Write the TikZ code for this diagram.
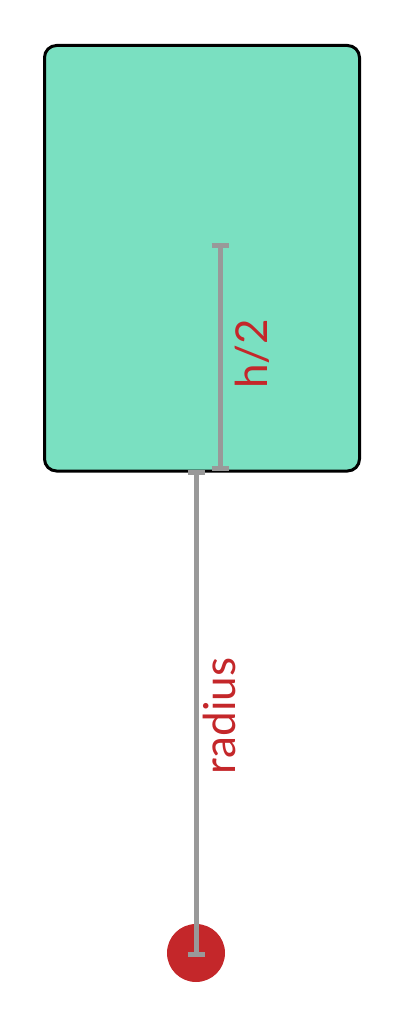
\documentclass[tikz,border=0pt]{standalone}
\usepackage{fontspec}
\setmainfont{Lato}
\definecolor{boxfill}{HTML}{7AE0C1}
\definecolor{barcol}{HTML}{999999}
\definecolor{redc}{HTML}{C4272A}
\begin{document}
\begin{tikzpicture}[x=1pt,y=-1pt,
  bar/.style={draw=barcol,line width=5pt,line cap=butt},
  lbl/.style={text=redc,font=\fontsize{44}{44}\selectfont,rotate=90,anchor=base,inner sep=0pt}]
\useasboundingbox (0,0) rectangle (404,1014);
\node[draw=black,line width=3pt,fill=boxfill,rounded corners=12pt,minimum width=315pt,minimum height=425.5pt,inner sep=0pt,anchor=north west] (box) at (43,44) {};
\node[circle,fill=redc,minimum size=58pt,inner sep=0pt] (pivot) at (196,953) {};
\coordinate (htop) at (220,245.5);
\coordinate (hbot) at (220,468.5);
\coordinate (rtop) at (196,472);
\coordinate (rbot) at (196,954);
\draw[bar] (htop) -- (hbot);
\draw[bar] ([xshift=-8.5pt]htop) -- ([xshift=8.5pt]htop);
\draw[bar] ([xshift=-8.5pt]hbot) -- ([xshift=8.5pt]hbot);
\draw[bar] (rtop) -- (rbot);
\draw[bar] ([xshift=-8.5pt]rtop) -- ([xshift=8.5pt]rtop);
\draw[bar] ([xshift=-8.5pt]rbot) -- ([xshift=8.5pt]rbot);
\node[lbl] (hlabel) at (267,354) {h/2};
\node[lbl] (rlabel) at (235,716) {radius};
\end{tikzpicture}
\end{document}
